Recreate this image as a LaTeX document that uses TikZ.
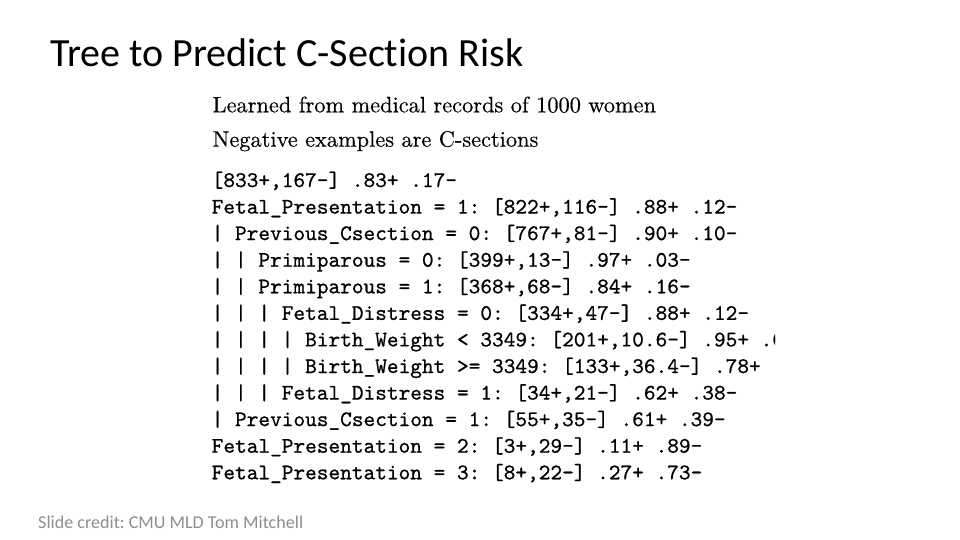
\documentclass[tikz,border=0pt]{standalone}
\usepackage{fontspec}
\newfontfamily\slidefont[Ligatures=NoCommon]{Carlito}
\newfontfamily\cmrten[FakeBold=0.3]{lmroman10-regular.otf}
\newfontfamily\cmttten[FakeBold=0.7]{lmmono10-regular.otf}
\definecolor{creditgray}{HTML}{8E8E8E}
\begin{document}
\frenchspacing
\begin{tikzpicture}[x=1pt,y=-1pt,
  titletext/.style={anchor=base west, inner sep=0pt, font=\slidefont\fontsize{40}{48}\selectfont, text=black},
  rline/.style={anchor=base west, inner sep=0pt, font=\cmrten\fontsize{22.35}{28}\selectfont},
  tline/.style={anchor=base west, inner sep=0pt, font=\cmttten\fontsize{22.25}{26.5}\selectfont},
  credit/.style={anchor=base west, inner sep=0pt, font=\slidefont\fontsize{18.1}{21}\selectfont, text=creditgray}]
\useasboundingbox[fill=white] (0,0) rectangle (960,540);
\node[titletext] (title) at (50,67) {Tree to Predict C-Section Risk};
\node[rline] (r1) at (212.5,112.3) {Learned from medical records of 1000 women};
\node[rline] (r2) at (212.5,146.7) {Negative examples are C-sections};
\begin{scope}
\clip (200,80) rectangle (775,500);
\node[tline] (t1) at (211.5,187.0) {[833+,167-] .83+ .17-};
\node[tline] (t2) at (211.5,213.6) {Fetal\_Presentation = 1: [822+,116-] .88+ .12-};
\node[tline] (t3) at (211.5,240.1) {| Previous\_Csection = 0: [767+,81-] .90+ .10-};
\node[tline] (t4) at (211.5,266.7) {| | Primiparous = 0: [399+,13-] .97+ .03-};
\node[tline] (t5) at (211.5,293.3) {| | Primiparous = 1: [368+,68-] .84+ .16-};
\node[tline] (t6) at (211.5,319.9) {| | | Fetal\_Distress = 0: [334+,47-] .88+ .12-};
\node[tline] (t7) at (211.5,346.4) {| | | | Birth\_Weight < 3349: [201+,10.6-] .95+ .0};
\node[tline] (t8) at (211.5,373.0) {| | | | Birth\_Weight >= 3349: [133+,36.4-] .78+};
\node[tline] (t9) at (211.5,399.6) {| | | Fetal\_Distress = 1: [34+,21-] .62+ .38-};
\node[tline] (t10) at (211.5,426.1) {| Previous\_Csection = 1: [55+,35-] .61+ .39-};
\node[tline] (t11) at (211.5,452.7) {Fetal\_Presentation = 2: [3+,29-] .11+ .89-};
\node[tline] (t12) at (211.5,479.3) {Fetal\_Presentation = 3: [8+,22-] .27+ .73-};
\end{scope}
\node[credit] (cr) at (38,528) {Slide credit: CMU MLD Tom Mitchell};
\end{tikzpicture}
\end{document}
